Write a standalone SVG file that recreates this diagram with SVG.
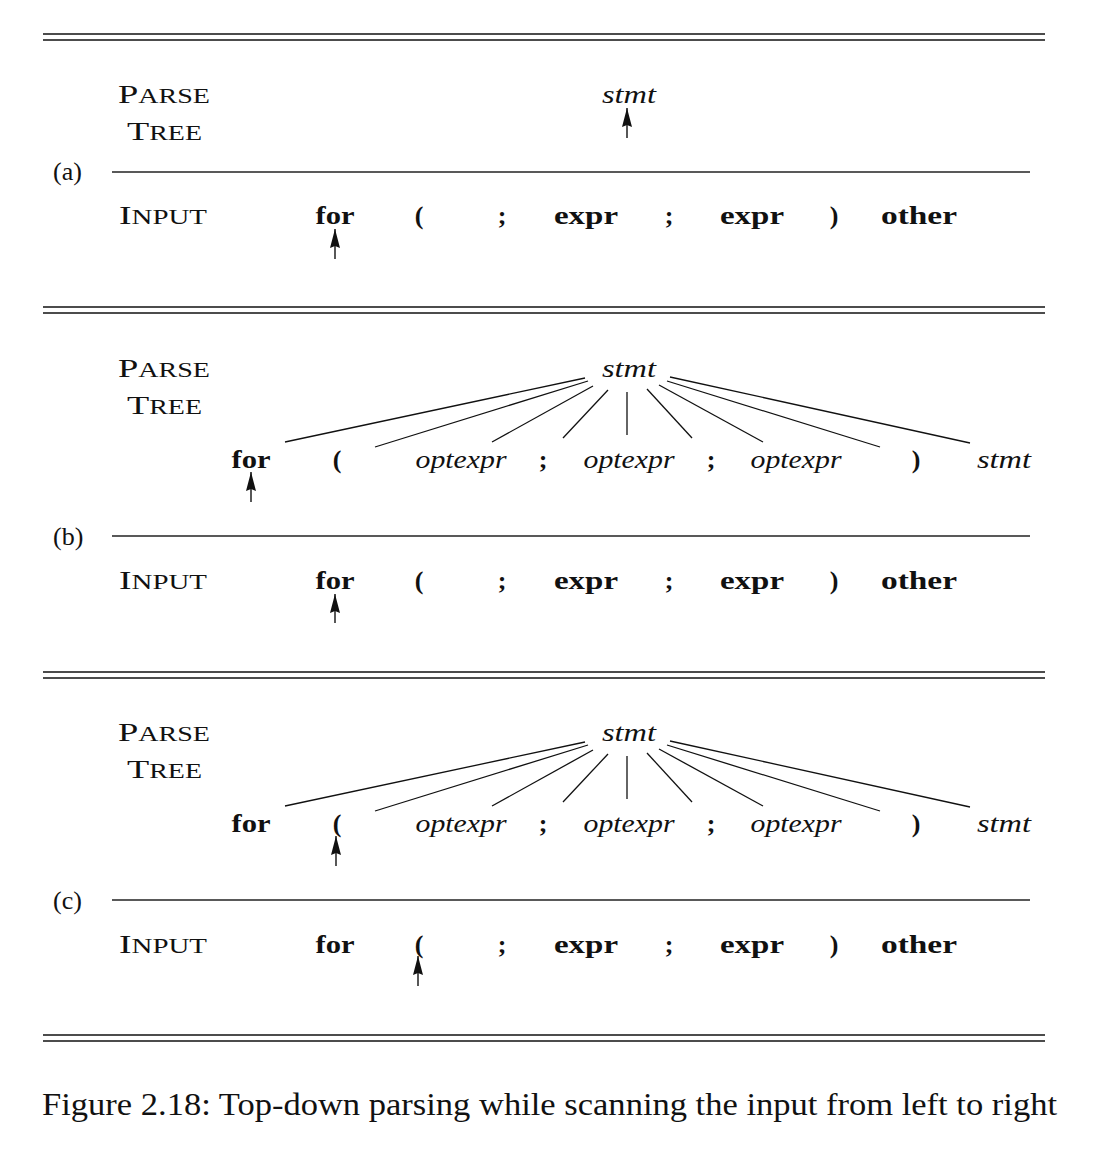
<svg xmlns="http://www.w3.org/2000/svg" width="1110" height="1154" viewBox="0 0 1110 1154">
<defs>
<style>
.rule{stroke:#111;stroke-width:1.6;fill:none}
.sep{stroke:#222;stroke-width:1.3;fill:none}
.edge{stroke:#111;stroke-width:1.3;fill:none}
.arr{stroke:#111;stroke-width:1.4;fill:none;marker-end:url(#ah)}
.lab{font-family:"Liberation Serif",serif;font-size:26px;fill:#111}
.tok{font-family:"Liberation Serif",serif;font-size:26px;font-weight:bold;fill:#111;text-anchor:middle}
.it{font-family:"Liberation Serif",serif;font-size:26px;font-style:italic;fill:#111;text-anchor:middle}
.sc{font-size:20px}
</style>
<marker id="ah" viewBox="0 0 19 10" refX="19" refY="5" markerWidth="19" markerHeight="10" markerUnits="userSpaceOnUse" orient="auto">
<path d="M0,0 L19,5 L0,10 L2,5 Z" fill="#111"/>
</marker>
</defs>
<rect width="1110" height="1154" fill="#fff"/>

<g id="rules">
<line class="rule" x1="43" y1="34" x2="1045" y2="34"/>
<line class="rule" x1="43" y1="40" x2="1045" y2="40"/>
<line class="rule" x1="43" y1="307" x2="1045" y2="307"/>
<line class="rule" x1="43" y1="313" x2="1045" y2="313"/>
<line class="rule" x1="43" y1="672" x2="1045" y2="672"/>
<line class="rule" x1="43" y1="678" x2="1045" y2="678"/>
<line class="rule" x1="43" y1="1035" x2="1045" y2="1035"/>
<line class="rule" x1="43" y1="1041" x2="1045" y2="1041"/>
<line class="sep" x1="112" y1="172" x2="1030" y2="172"/>
<line class="sep" x1="112" y1="536" x2="1030" y2="536"/>
<line class="sep" x1="112" y1="900" x2="1030" y2="900"/>
</g>

<!-- (a) -->
<g id="panel-a">
<text class="lab" x="118" y="103" textLength="92" lengthAdjust="spacingAndGlyphs">P<tspan class="sc">ARSE</tspan></text>
<text class="lab" x="127" y="140" textLength="75" lengthAdjust="spacingAndGlyphs">T<tspan class="sc">REE</tspan></text>
<text class="lab" x="53" y="180">(a)</text>
<text class="lab" x="119" y="224" textLength="88" lengthAdjust="spacingAndGlyphs">I<tspan class="sc">NPUT</tspan></text>
<text class="it" x="629" y="103" textLength="54" lengthAdjust="spacingAndGlyphs">stmt</text>
<g class="input">
<text class="tok" x="335" y="224" textLength="39" lengthAdjust="spacingAndGlyphs">for</text>
<text class="tok" x="419" y="224">(</text>
<text class="tok" x="502" y="224">;</text>
<text class="tok" x="586" y="224" textLength="64" lengthAdjust="spacingAndGlyphs">expr</text>
<text class="tok" x="669" y="224">;</text>
<text class="tok" x="752" y="224" textLength="64" lengthAdjust="spacingAndGlyphs">expr</text>
<text class="tok" x="834" y="224">)</text>
<text class="tok" x="919" y="224" textLength="76" lengthAdjust="spacingAndGlyphs">other</text>
</g>
</g>

<!-- (b) -->
<g id="panel-b">
<text class="lab" x="118" y="377" textLength="92" lengthAdjust="spacingAndGlyphs">P<tspan class="sc">ARSE</tspan></text>
<text class="lab" x="127" y="414" textLength="75" lengthAdjust="spacingAndGlyphs">T<tspan class="sc">REE</tspan></text>
<text class="lab" x="53" y="545">(b)</text>
<text class="lab" x="119" y="589" textLength="88" lengthAdjust="spacingAndGlyphs">I<tspan class="sc">NPUT</tspan></text>
<text class="it" x="629" y="377" textLength="54" lengthAdjust="spacingAndGlyphs">stmt</text>
<g class="tree-row">
<text class="tok" x="251" y="468" textLength="39" lengthAdjust="spacingAndGlyphs">for</text>
<text class="tok" x="337" y="468">(</text>
<text class="it" x="461" y="468" textLength="91" lengthAdjust="spacingAndGlyphs">optexpr</text>
<text class="tok" x="543" y="468">;</text>
<text class="it" x="629" y="468" textLength="91" lengthAdjust="spacingAndGlyphs">optexpr</text>
<text class="tok" x="711" y="468">;</text>
<text class="it" x="796" y="468" textLength="91" lengthAdjust="spacingAndGlyphs">optexpr</text>
<text class="tok" x="916" y="468">)</text>
<text class="it" x="1004" y="468" textLength="54" lengthAdjust="spacingAndGlyphs">stmt</text>
</g>
<g class="input">
<text class="tok" x="335" y="589" textLength="39" lengthAdjust="spacingAndGlyphs">for</text>
<text class="tok" x="419" y="589">(</text>
<text class="tok" x="502" y="589">;</text>
<text class="tok" x="586" y="589" textLength="64" lengthAdjust="spacingAndGlyphs">expr</text>
<text class="tok" x="669" y="589">;</text>
<text class="tok" x="752" y="589" textLength="64" lengthAdjust="spacingAndGlyphs">expr</text>
<text class="tok" x="834" y="589">)</text>
<text class="tok" x="919" y="589" textLength="76" lengthAdjust="spacingAndGlyphs">other</text>
</g>
</g>

<!-- (c) -->
<g id="panel-c">
<text class="lab" x="118" y="741" textLength="92" lengthAdjust="spacingAndGlyphs">P<tspan class="sc">ARSE</tspan></text>
<text class="lab" x="127" y="778" textLength="75" lengthAdjust="spacingAndGlyphs">T<tspan class="sc">REE</tspan></text>
<text class="lab" x="53" y="909">(c)</text>
<text class="lab" x="119" y="953" textLength="88" lengthAdjust="spacingAndGlyphs">I<tspan class="sc">NPUT</tspan></text>
<text class="it" x="629" y="741" textLength="54" lengthAdjust="spacingAndGlyphs">stmt</text>
<g class="tree-row">
<text class="tok" x="251" y="832" textLength="39" lengthAdjust="spacingAndGlyphs">for</text>
<text class="tok" x="337" y="832">(</text>
<text class="it" x="461" y="832" textLength="91" lengthAdjust="spacingAndGlyphs">optexpr</text>
<text class="tok" x="543" y="832">;</text>
<text class="it" x="629" y="832" textLength="91" lengthAdjust="spacingAndGlyphs">optexpr</text>
<text class="tok" x="711" y="832">;</text>
<text class="it" x="796" y="832" textLength="91" lengthAdjust="spacingAndGlyphs">optexpr</text>
<text class="tok" x="916" y="832">)</text>
<text class="it" x="1004" y="832" textLength="54" lengthAdjust="spacingAndGlyphs">stmt</text>
</g>
<g class="input">
<text class="tok" x="335" y="953" textLength="39" lengthAdjust="spacingAndGlyphs">for</text>
<text class="tok" x="419" y="953">(</text>
<text class="tok" x="502" y="953">;</text>
<text class="tok" x="586" y="953" textLength="64" lengthAdjust="spacingAndGlyphs">expr</text>
<text class="tok" x="669" y="953">;</text>
<text class="tok" x="752" y="953" textLength="64" lengthAdjust="spacingAndGlyphs">expr</text>
<text class="tok" x="834" y="953">)</text>
<text class="tok" x="919" y="953" textLength="76" lengthAdjust="spacingAndGlyphs">other</text>
</g>
</g>

<g id="connectors">
<!-- (b) tree edges -->
<line class="edge" x1="585" y1="378" x2="285" y2="442"/>
<line class="edge" x1="588" y1="381" x2="375" y2="447"/>
<line class="edge" x1="593" y1="386" x2="492" y2="442"/>
<line class="edge" x1="608" y1="390" x2="563" y2="438"/>
<line class="edge" x1="627" y1="392" x2="627" y2="435"/>
<line class="edge" x1="647" y1="389" x2="692" y2="438"/>
<line class="edge" x1="659" y1="385" x2="763" y2="442"/>
<line class="edge" x1="667" y1="381" x2="880" y2="447"/>
<line class="edge" x1="670" y1="377" x2="970" y2="443"/>
<!-- (c) tree edges -->
<line class="edge" x1="585" y1="742" x2="285" y2="806"/>
<line class="edge" x1="588" y1="745" x2="375" y2="811"/>
<line class="edge" x1="593" y1="750" x2="492" y2="806"/>
<line class="edge" x1="608" y1="754" x2="563" y2="802"/>
<line class="edge" x1="627" y1="756" x2="627" y2="799"/>
<line class="edge" x1="647" y1="753" x2="692" y2="802"/>
<line class="edge" x1="659" y1="749" x2="763" y2="806"/>
<line class="edge" x1="667" y1="745" x2="880" y2="811"/>
<line class="edge" x1="670" y1="741" x2="970" y2="807"/>
<!-- pointer arrows -->
<line class="arr" x1="627" y1="138" x2="627" y2="108"/>
<line class="arr" x1="335" y1="259" x2="335" y2="229"/>
<line class="arr" x1="251" y1="502" x2="251" y2="472"/>
<line class="arr" x1="335" y1="623" x2="335" y2="594"/>
<line class="arr" x1="336" y1="866" x2="336" y2="836"/>
<line class="arr" x1="418" y1="986" x2="418" y2="956"/>
</g>

<text id="caption" class="lab" x="42" y="1115" style="font-size:31px" textLength="1015" lengthAdjust="spacingAndGlyphs">Figure 2.18: Top-down parsing while scanning the input from left to right</text>
</svg>
